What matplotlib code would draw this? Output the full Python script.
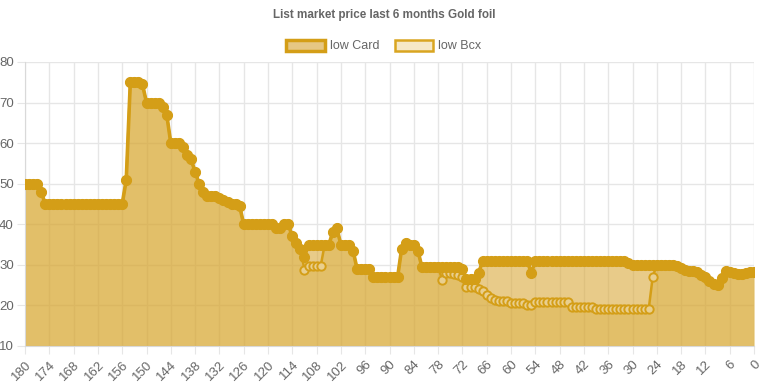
import matplotlib
matplotlib.use("Agg")
import matplotlib.pyplot as plt
from matplotlib.patches import Patch

# ── data: one value per day, from 180 days ago down to today ─────
days = list(range(180, -1, -1))

low_card = [
    50, 50, 50, 50, 48, 45, 45, 45, 45, 45,            # 180-171
    45, 45, 45, 45, 45, 45, 45, 45, 45, 45,            # 170-161
    45, 45, 45, 45, 45, 51, 75, 75, 75, 74.5,          # 160-151
    70, 70, 70, 70, 69, 67, 60, 60, 60, 59,            # 150-141
    57, 56, 53, 50, 48, 47, 47, 47, 46.5, 46,          # 140-131
    45.5, 45, 45, 44.5, 40, 40, 40, 40, 40, 40,        # 130-121
    40, 40, 39, 39, 40, 40, 37, 35.5, 34, 32,          # 120-111
    35, 35, 35, 35, 35, 35, 38, 39, 35, 35,            # 110-101
    35, 33.5, 29, 29, 29, 29, 27, 27, 27, 27,          # 100-91
    27, 27, 27, 34, 35.3, 35, 35, 33.5, 29.5, 29.5,    # 90-81
    29.5, 29.5, 29.5, 29.5, 29.5, 29.5, 29.5, 29.5, 29, 26.5,  # 80-71
    26.5, 26.5, 28, 31, 31, 31, 31, 31, 31, 31,        # 70-61
    31, 31, 31, 31, 31, 28, 31, 31, 31, 31,            # 60-51
    31, 31, 31, 31, 31, 31, 31, 31, 31, 31,            # 50-41
    31, 31, 31, 31, 31, 31, 31, 31, 31, 30.5,          # 40-31
    30, 30, 30, 30, 30, 30, 30, 30, 30, 30,            # 30-21
    30, 29.7, 29.2, 28.7, 28.5, 28.4, 28.2, 27.5, 27, 26,  # 20-11
    25.3, 25, 26.7, 28.5, 28.2, 27.9, 27.8, 27.8, 28.1, 28.2,  # 10-1
    28.2,                                              # 0
]

low_bcx = [
    50, 50, 50, 50, 48, 45, 45, 45, 45, 45,            # 180-171
    45, 45, 45, 45, 45, 45, 45, 45, 45, 45,            # 170-161
    45, 45, 45, 45, 45, 51, 75, 75, 75, 74.5,          # 160-151
    70, 70, 70, 70, 69, 67, 60, 60, 60, 59,            # 150-141
    57, 56, 53, 50, 48, 47, 47, 47, 46.5, 46,          # 140-131
    45.5, 45, 45, 44.5, 40, 40, 40, 40, 40, 40,        # 130-121
    40, 40, 39, 39, 40, 40, 37, 35.5, 34, 28.8,        # 120-111
    29.7, 29.7, 29.7, 29.7, 35, 35, 38, 39, 35, 35,    # 110-101
    35, 33.5, 29, 29, 29, 29, 27, 27, 27, 27,          # 100-91
    27, 27, 27, 34, 35.3, 35, 35, 33.5, 29.5, 29.5,    # 90-81
    29.5, 29.5, 29.5, 26.3, 28, 28, 27.8, 27.5, 27, 24.6,  # 80-71
    24.6, 24.5, 24, 23.5, 22.5, 21.8, 21.3, 21.1, 21, 21,  # 70-61
    20.7, 20.7, 20.7, 20.7, 20.2, 20.1, 20.9, 20.9, 20.9, 20.9,  # 60-51
    20.9, 20.9, 20.9, 20.9, 20.9, 19.6, 19.6, 19.6, 19.6, 19.6,  # 50-41
    19.6, 19.1, 19.1, 19.1, 19.1, 19.1, 19.1, 19.1, 19.1, 19.1,  # 40-31
    19.1, 19.1, 19.1, 19.1, 19.1, 27.1, 30, 30, 30, 30,    # 30-21
    30, 29.7, 29.2, 28.7, 28.5, 28.4, 28.2, 27.5, 27, 26,  # 20-11
    25.3, 25, 26.7, 28.5, 28.2, 27.9, 27.8, 27.8, 28.1, 28.2,  # 10-1
    28.2,                                              # 0
]

x_ticks = list(range(180, -1, -6))
y_ticks = [10, 20, 30, 40, 50, 60, 70, 80]

# ── style ────────────────────────────────────────────────────────
line_gold = "#d49e17"
card_fill = "#d9a93a"
bcx_fill = "#d4a017"
grid_col = "#e6e6e6"
text_col = "#666666"

plt.rcParams["font.family"] = ["Liberation Sans", "DejaVu Sans"]

fig = plt.figure(figsize=(7.68, 3.84), dpi=100)
ax = fig.add_axes([25 / 768, 38 / 384, 729 / 768, 284 / 384])

# fills (Card below Bcx so the overlap looks darker)
ax.fill_between(days, 10, low_card, color=card_fill, alpha=0.6,
                linewidth=0, zorder=1)
ax.fill_between(days, 10, low_bcx, color=bcx_fill, alpha=0.28,
                linewidth=0, zorder=1.5)

ax.plot(days, low_bcx, color=line_gold, lw=1.8, marker="o", ms=6,
        mfc="#e9cf8f", mec=line_gold, mew=1.4, zorder=2)
ax.plot(days, low_card, color=line_gold, lw=2.6, marker="o", ms=7,
        mfc=line_gold, mec=line_gold, zorder=3)

ax.set_xlim(180, 0)
ax.set_ylim(10, 80)
ax.set_xticks(x_ticks)
ax.set_xticklabels([str(t) for t in x_ticks], rotation=45, ha="right",
                   va="top", rotation_mode="anchor")
ax.set_yticks(y_ticks)

ax.grid(True, color=grid_col, lw=1, zorder=0)
ax.set_axisbelow(True)
for side in ["top", "right"]:
    ax.spines[side].set_visible(False)
for side in ["left", "bottom"]:
    ax.spines[side].set_color("#d9d9d9")
ax.tick_params(axis="both", colors=grid_col, length=6, labelcolor=text_col,
               labelsize=9.5)
ax.tick_params(axis="x", pad=3)
ax.tick_params(axis="y", pad=2)

fig.text(0.5, 1 - 15 / 384, "List market price last 6 months Gold foil",
         ha="center", va="center", fontsize=8.4, fontweight="bold",
         color=text_col)

handles = [
    Patch(facecolor="#e6c784", edgecolor=line_gold, linewidth=2.5,
          label="low Card"),
    Patch(facecolor="#f6e8c6", edgecolor="#d9a520", linewidth=1.8,
          label="low Bcx"),
]
fig.legend(handles=handles, loc="center", bbox_to_anchor=(0.5, 1 - 46 / 384),
           ncol=2, frameon=False, fontsize=9, handlelength=3.1,
           handleheight=1.0, columnspacing=1.2, handletextpad=0.4,
           labelcolor=text_col)

fig.savefig("out.png", dpi=100)
